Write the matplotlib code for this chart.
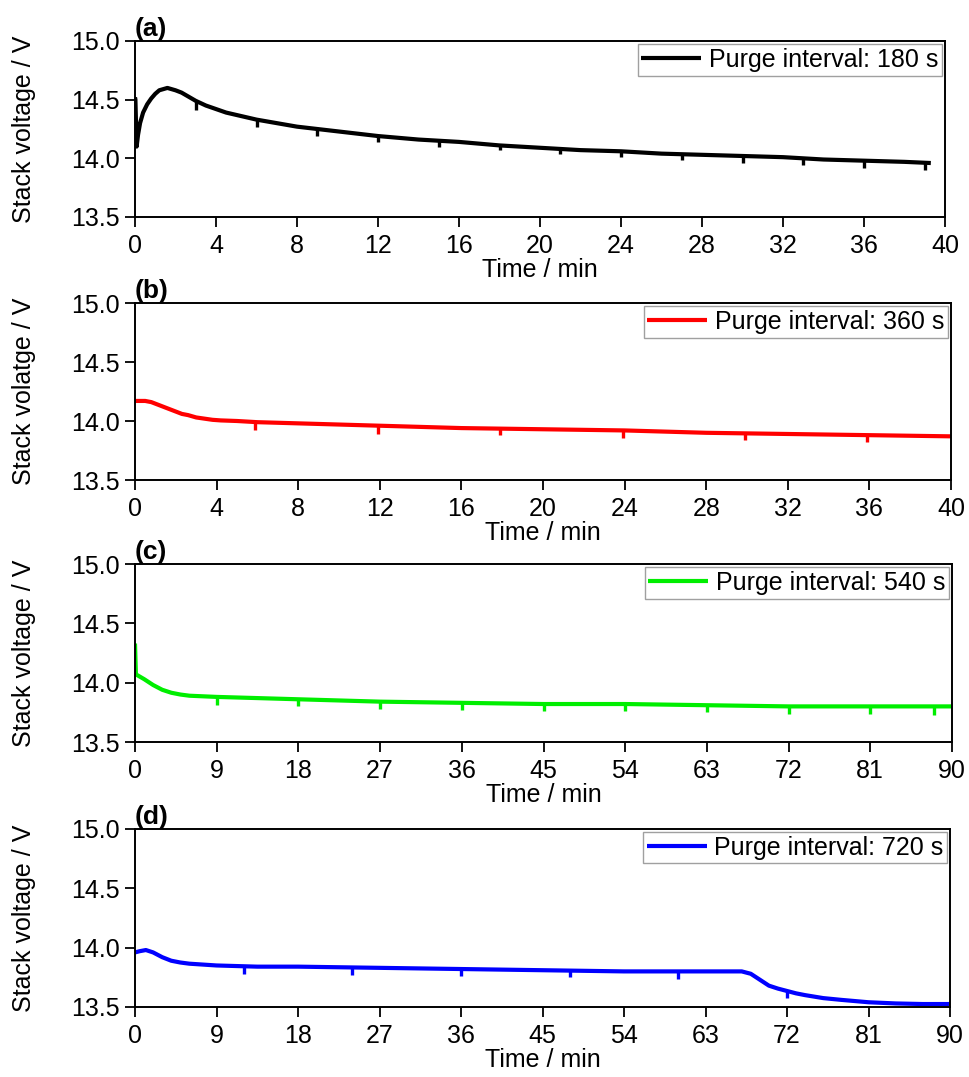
import matplotlib
matplotlib.use("Agg")
import matplotlib.pyplot as plt

plt.rcParams['font.family'] = ['Liberation Sans', 'DejaVu Sans']

# ---------------- data ----------------
# (a) purge interval 180 s
t_a = [0.0, 0.02, 0.08, 0.15, 0.25, 0.4, 0.6, 0.8, 1.0, 1.2, 1.4, 1.6, 1.8, 2.0, 2.3, 2.6, 3.0, 3.5,
       4.0, 4.5, 5.0, 6.0, 7.0, 8.0, 9.0, 10.0, 12.0, 14.0, 16.0, 18.0, 20.0, 22.0, 24.0, 26.0, 28.0,
       30.0, 32.0, 34.0, 36.0, 38.0, 39.3]
v_a = [14.52, 14.50, 14.10, 14.20, 14.30, 14.39, 14.46, 14.51, 14.55, 14.58, 14.59, 14.60, 14.59, 14.58,
       14.56, 14.53, 14.49, 14.45, 14.42, 14.39, 14.37, 14.33, 14.30, 14.27, 14.25, 14.23, 14.19, 14.16,
       14.14, 14.11, 14.09, 14.07, 14.06, 14.04, 14.03, 14.02, 14.01, 13.99, 13.98, 13.97, 13.96]
dip_t_a = [3, 6, 9, 12, 15, 18, 21, 24, 27, 30, 33, 36, 39]
dip_top_a = [14.49, 14.33, 14.25, 14.19, 14.15, 14.11, 14.08, 14.06, 14.04, 14.02, 14.00, 13.98, 13.96]
dip_bot_a = [14.41, 14.27, 14.19, 14.14, 14.10, 14.07, 14.04, 14.01, 13.99, 13.96, 13.94, 13.92, 13.90]

# (b) purge interval 360 s
t_b = [0.0, 0.5, 0.8, 1.1, 1.4, 1.7, 2.0, 2.3, 2.6, 3.0, 3.4, 3.8, 4.2, 5.0, 6.0, 8.0, 10.0, 12.0,
       16.0, 20.0, 24.0, 28.0, 32.0, 36.0, 40.0]
v_b = [14.17, 14.17, 14.16, 14.14, 14.12, 14.10, 14.08, 14.06, 14.05, 14.03, 14.02, 14.01, 14.005, 14.00,
       13.99, 13.98, 13.97, 13.96, 13.94, 13.93, 13.92, 13.90, 13.89, 13.88, 13.87]
dip_t_b = [5.9, 11.9, 17.9, 23.9, 29.9, 35.9]
dip_top_b = [13.99, 13.96, 13.94, 13.92, 13.90, 13.88]
dip_bot_b = [13.92, 13.89, 13.88, 13.86, 13.84, 13.82]

# (c) purge interval 540 s
t_c = [0.0, 0.05, 0.1, 1.0, 2.0, 3.0, 4.0, 5.0, 6.0, 7.5, 9.0, 13.5, 18.0, 27.0, 36.0, 45.0, 54.0, 63.0,
       72.0, 81.0, 90.0]
v_c = [14.33, 14.20, 14.07, 14.03, 13.98, 13.94, 13.915, 13.90, 13.89, 13.885, 13.88, 13.87, 13.86, 13.84,
       13.83, 13.82, 13.82, 13.81, 13.80, 13.80, 13.80]
dip_t_c = [9, 18, 27, 36, 45, 54, 63, 72, 81, 88]
dip_top_c = [13.88, 13.86, 13.84, 13.83, 13.82, 13.82, 13.81, 13.80, 13.80, 13.80]
dip_bot_c = [13.81, 13.80, 13.78, 13.77, 13.76, 13.76, 13.75, 13.74, 13.74, 13.73]

# (d) purge interval 720 s
t_d = [0.0, 0.5, 1.2, 2.0, 2.5, 3.0, 3.5, 4.0, 5.0, 6.0, 7.0, 9.0, 13.5, 18.0, 27.0, 36.0, 45.0, 54.0,
       63.0, 67.0, 68.0, 69.0, 70.0, 71.0, 72.0, 73.0, 74.0, 76.0, 78.0, 81.0, 84.0, 87.0, 90.0]
v_d = [13.96, 13.97, 13.98, 13.96, 13.94, 13.92, 13.905, 13.89, 13.875, 13.865, 13.86, 13.85, 13.84,
       13.84, 13.83, 13.82, 13.81, 13.80, 13.80, 13.80, 13.78, 13.73, 13.68, 13.655, 13.635, 13.615,
       13.60, 13.575, 13.56, 13.54, 13.53, 13.525, 13.525]
dip_t_d = [12, 24, 36, 48, 60, 72]
dip_top_d = [13.84, 13.83, 13.82, 13.81, 13.80, 13.635]
dip_bot_d = [13.78, 13.77, 13.76, 13.75, 13.74, 13.58]

panels = [
    dict(t=t_a, v=v_a, dt=dip_t_a, dtop=dip_top_a, dbot=dip_bot_a, color='black',
         label='Purge interval: 180 s', tag='(a)', xmax=40, xticks=list(range(0, 41, 4)),
         ylabel='Stack voltage / V'),
    dict(t=t_b, v=v_b, dt=dip_t_b, dtop=dip_top_b, dbot=dip_bot_b, color='#ff0000',
         label='Purge interval: 360 s', tag='(b)', xmax=40, xticks=list(range(0, 41, 4)),
         ylabel='Stack volatge / V'),
    dict(t=t_c, v=v_c, dt=dip_t_c, dtop=dip_top_c, dbot=dip_bot_c, color='#00ee00',
         label='Purge interval: 540 s', tag='(c)', xmax=90, xticks=list(range(0, 91, 9)),
         ylabel='Stack voltage / V'),
    dict(t=t_d, v=v_d, dt=dip_t_d, dtop=dip_top_d, dbot=dip_bot_d, color='#0000ff',
         label='Purge interval: 720 s', tag='(d)', xmax=90, xticks=list(range(0, 91, 9)),
         ylabel='Stack voltage / V'),
]
yticks = [13.5, 14.0, 14.5, 15.0]

# ---------------- figure ----------------
W, H = 969, 1077
fig = plt.figure(figsize=(W / 100, H / 100), dpi=100)
boxes = [(135, 945, 41, 217), (135, 951, 303, 480), (135, 952, 564, 742), (135, 950, 829, 1007)]
FS = 18

for p, (x0, x1, y0, y1) in zip(panels, boxes):
    ax = fig.add_axes([x0 / W, 1 - y1 / H, (x1 - x0) / W, (y1 - y0) / H])
    ax.plot(p['t'], p['v'], color=p['color'], lw=3.0, label=p['label'],
            solid_joinstyle='round', solid_capstyle='butt')
    ax.vlines(p['dt'], p['dbot'], p['dtop'], color=p['color'], lw=2.4)
    ax.set_xlim(0, p['xmax'])
    ax.set_ylim(13.5, 15.0)
    ax.set_xticks(p['xticks'])
    ax.set_yticks(yticks)
    ax.set_yticklabels([f'{y:.1f}' for y in yticks])
    ax.tick_params(direction='out', length=7, width=1.3, labelsize=FS, top=False, right=False, pad=4)
    ax.tick_params(axis='x', pad=5)
    for s in ax.spines.values():
        s.set_linewidth(1.4)
    ax.set_xlabel('Time / min', fontsize=FS, labelpad=0)
    ax.set_ylabel(p['ylabel'], fontsize=FS)
    ax.yaxis.set_label_coords(5 / (x1 - x0) - 0.128 * 816 / (x1 - x0) + 0.0, 0.5)
    ax.text(0.0, 1.0, p['tag'], transform=ax.transAxes, fontsize=19, fontweight='bold',
            ha='left', va='bottom')
    leg = ax.legend(loc='upper right', fontsize=FS, frameon=True, fancybox=False, handlelength=2.4,
                    borderaxespad=0.12, borderpad=0.15, handletextpad=0.3)
    leg.get_frame().set_edgecolor('#888888')
    leg.get_frame().set_linewidth(1.0)

fig.savefig('out.png', dpi=100)
